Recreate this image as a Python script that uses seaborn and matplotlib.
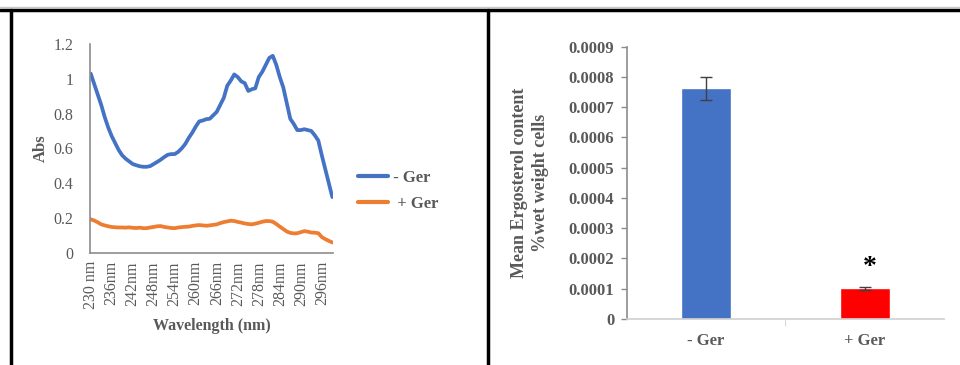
import matplotlib
matplotlib.use("Agg")
import matplotlib.pyplot as plt
import seaborn as sns
import pandas as pd
from matplotlib.lines import Line2D

# absorbance scan, 1 nm steps from 230 to 299 nm
wavelengths = list(range(230, 300))
abs_minus_ger = [
    1.03, 0.97, 0.91, 0.85, 0.78, 0.72, 0.67, 0.63, 0.59, 0.56,
    0.54, 0.525, 0.51, 0.503, 0.497, 0.494, 0.494, 0.498, 0.51, 0.522,
    0.535, 0.55, 0.563, 0.567, 0.567, 0.58, 0.60, 0.625, 0.66, 0.69,
    0.725, 0.755, 0.76, 0.768, 0.77, 0.79, 0.81, 0.85, 0.89, 0.96,
    0.99, 1.025, 1.01, 0.985, 0.975, 0.93, 0.94, 0.945, 1.01, 1.04,
    1.08, 1.12, 1.132, 1.08, 1.01, 0.95, 0.86, 0.77, 0.74, 0.705,
    0.705, 0.71, 0.705, 0.70, 0.675, 0.645, 0.56, 0.48, 0.40, 0.32,
]
abs_plus_ger = [
    0.192, 0.185, 0.175, 0.163, 0.157, 0.152, 0.148, 0.146, 0.145, 0.145,
    0.144, 0.146, 0.143, 0.142, 0.144, 0.141, 0.141, 0.145, 0.148, 0.152,
    0.153, 0.148, 0.145, 0.142, 0.141, 0.145, 0.147, 0.149, 0.150, 0.154,
    0.157, 0.159, 0.157, 0.155, 0.157, 0.160, 0.163, 0.170, 0.176, 0.180,
    0.184, 0.182, 0.177, 0.173, 0.168, 0.165, 0.163, 0.167, 0.172, 0.178,
    0.182, 0.182, 0.178, 0.165, 0.150, 0.136, 0.122, 0.114, 0.111, 0.112,
    0.118, 0.124, 0.121, 0.116, 0.115, 0.112, 0.090, 0.078, 0.068, 0.059,
]
wl_ticks = list(range(230, 300, 6))
wl_labels = ["230 nm"] + [f"{w}nm" for w in wl_ticks[1:]]

# ergosterol content
groups = ["- Ger", "+ Ger"]
ergosterol = [0.000762, 0.000101]
ergosterol_err = [0.000038, 0.000006]

BLUE = "#4472C4"
ORANGE = "#ED7D31"
RED = "#FF0000"
GREY = "#595959"
AXIS = "#8c8c8c"

sns.set_style("white")
plt.rcParams["font.family"] = ["Liberation Serif", "DejaVu Serif"]

fig = plt.figure(figsize=(9.6, 3.65), dpi=100)

# ---- left: absorbance spectra
ax1 = fig.add_axes([90 / 960, 1 - 252.7 / 365, 243 / 960, 208.7 / 365])
df = pd.DataFrame({
    "wl": wavelengths * 2,
    "abs": abs_minus_ger + abs_plus_ger,
    "grp": ["- Ger"] * len(wavelengths) + ["+ Ger"] * len(wavelengths),
})
sns.lineplot(data=df, x="wl", y="abs", hue="grp", palette=[BLUE, ORANGE],
             linewidth=2.7, ax=ax1, legend=False)
ax1.set_xlim(229.8, 299.2)
ax1.set_ylim(0, 1.2)
ax1.set_yticks([0, 0.2, 0.4, 0.6, 0.8, 1.0, 1.2])
ax1.set_yticklabels(["0", "0.2", "0.4", "0.6", "0.8", "1", "1.2"])
ax1.set_xticks(wl_ticks)
ax1.set_xticklabels(wl_labels, rotation=90)
ax1.tick_params(axis="both", length=0, labelsize=11.5, labelcolor=GREY, pad=6)
ax1.tick_params(axis="y", pad=12)
for s in ["top", "right"]:
    ax1.spines[s].set_visible(False)
for s in ["left", "bottom"]:
    ax1.spines[s].set_color(AXIS)
    ax1.spines[s].set_linewidth(1.2)
ax1.set_xlabel("Wavelength (nm)", fontsize=11.5, fontweight="bold", color=GREY, labelpad=6)
ax1.set_ylabel("Abs", fontsize=12, fontweight="bold", color=GREY, labelpad=3)
handles = [Line2D([], [], color=BLUE, lw=3), Line2D([], [], color=ORANGE, lw=3)]
leg = ax1.legend(handles, [" - Ger", "  + Ger"], loc="center left",
                 bbox_to_anchor=(1.04, 0.295), frameon=False, fontsize=12,
                 handlelength=1.8, handletextpad=0.1, labelspacing=0.6)
for t in leg.get_texts():
    t.set_fontweight("bold")
    t.set_color(GREY)

# ---- right: ergosterol bars
ax2 = fig.add_axes([626.7 / 960, 1 - 319 / 365, 317.3 / 960, 272.3 / 365])
sns.barplot(x=groups, y=ergosterol, hue=groups, palette=[BLUE, RED],
            width=0.315, saturation=1, legend=False, ax=ax2)
ax2.errorbar(x=[0, 1], y=ergosterol, yerr=ergosterol_err, fmt="none",
             ecolor="#404040", elinewidth=1, capsize=4, capthick=1)
ax2.text(1.03, 0.000170, "*", ha="center", va="center", fontsize=20,
         fontweight="bold", color="black")
ax2.set_xlim(-0.5, 1.5)
ax2.set_ylim(0, 0.0009)
yt = [i * 0.0001 for i in range(10)]
ax2.set_yticks(yt)
ax2.set_yticklabels(["0"] + [f"{v:.4f}" for v in yt[1:]])
ax2.set_xticks([0.5], minor=True)
ax2.tick_params(axis="y", length=4, color=AXIS, width=1, direction="out", left=True, pad=5)
ax2.tick_params(axis="x", which="major", length=0, pad=10)
ax2.tick_params(axis="x", which="minor", length=5, color="#d0d0d0", bottom=True)
ax2.tick_params(axis="both", labelsize=12, labelcolor=GREY)
for t in ax2.get_yticklabels() + ax2.get_xticklabels():
    t.set_fontweight("bold")
for s in ["top", "right"]:
    ax2.spines[s].set_visible(False)
ax2.spines["left"].set_color(AXIS)
ax2.spines["bottom"].set_color("#d0d0d0")
ax2.spines["left"].set_linewidth(1.2)
ax2.spines["bottom"].set_linewidth(1.2)
ax2.set_ylabel("Mean Ergosterol content\n%wet weight cells", fontsize=13,
               fontweight="bold", color=GREY, labelpad=14, linespacing=1.3)

# ---- panel frame
fig.add_artist(Line2D([0, 1], [1 - 6.5 / 365] * 2, color="#c8c8c8", lw=1))
fig.add_artist(Line2D([0.0, 1], [1 - 10 / 365] * 2, color="black", lw=2.5))
fig.add_artist(Line2D([11 / 960] * 2, [0, 1 - 10 / 365], color="black", lw=2.5))
fig.add_artist(Line2D([487.5 / 960] * 2, [0, 1 - 10 / 365], color="black", lw=2.5))

fig.savefig("out.png", dpi=100)
